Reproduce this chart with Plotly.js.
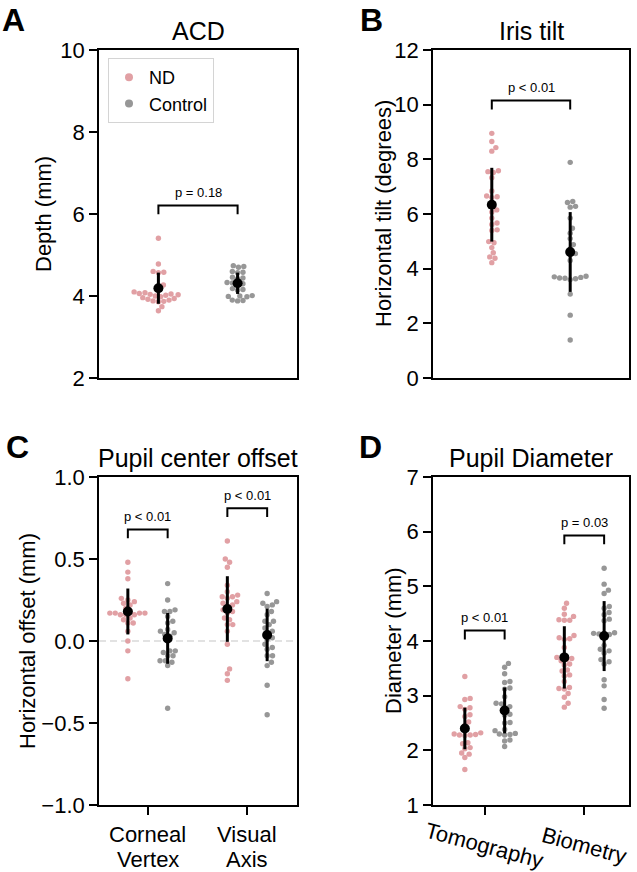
<!DOCTYPE html>
<html><head><meta charset="utf-8">
<script src="https://cdn.plot.ly/plotly-3.0.1.min.js"></script>
<style>html,body{margin:0;padding:0;background:#fff;} #chart{width:637px;height:872px;}</style>
</head><body><div id="chart"></div>
<script>
// ---------------- data ----------------
const groups = ['ND', 'Control'];
const panelTitles = ['ACD', 'Iris tilt', 'Pupil center offset', 'Pupil Diameter'];
const panelLetters = ['A', 'B', 'C', 'D'];
const yTitles = ['Depth (mm)', 'Horizontal tilt (degrees)', 'Horizontal offset (mm)', 'Diameter (mm)'];
const offsetCats = ['Corneal<br>Vertex', 'Visual<br>Axis'];
const diamCats = ['Tomography', 'Biometry'];

const acdND = [5.41, 4.78, 4.60, 4.58, 4.57, 4.27, 4.22, 4.10, 4.08, 4.06, 4.05, 4.04, 4.03, 4.02, 4.00, 3.98, 3.96, 3.94, 3.92, 3.90, 3.88, 3.87, 3.86, 3.74, 3.64];
const acdControl = [4.74, 4.72, 4.70, 4.60, 4.58, 4.57, 4.46, 4.44, 4.42, 4.33, 4.32, 4.30, 4.28, 4.18, 4.16, 4.14, 4.01, 4.00, 3.99, 3.98, 3.90, 3.89, 3.88];
const acdMean = [4.19, 4.31];
const acdSD = [0.38, 0.26];
const acdP = ['p = 0.18'];

const tiltND = [8.95, 8.65, 8.43, 8.30, 7.58, 7.55, 7.52, 7.33, 6.84, 6.66, 6.63, 6.60, 6.35, 6.15, 6.07, 5.85, 5.67, 5.62, 5.42, 5.40, 4.99, 4.95, 4.77, 4.58, 4.43, 4.38, 4.22];
const tiltControl = [7.89, 6.46, 6.42, 6.28, 6.25, 5.85, 5.48, 5.30, 5.10, 4.88, 4.72, 4.55, 4.50, 4.30, 3.72, 3.70, 3.68, 3.66, 3.65, 3.63, 3.60, 3.07, 2.30, 1.39];
const tiltMean = [6.34, 4.61];
const tiltSD = [1.35, 1.46];
const tiltP = ['p < 0.01'];

const offsetCornealND = [0.48, 0.42, 0.38, 0.26, 0.25, 0.24, 0.23, 0.22, 0.20, 0.18, 0.17, 0.17, 0.17, 0.17, 0.16, 0.16, 0.16, 0.14, 0.13, 0.11, 0.11, 0.06, 0.00, -0.06, -0.23];
const offsetCornealControl = [0.35, 0.25, 0.19, 0.18, 0.18, 0.15, 0.12, 0.11, 0.07, 0.06, 0.05, 0.04, 0.03, 0.00, -0.06, -0.06, -0.07, -0.09, -0.09, -0.12, -0.12, -0.13, -0.15, -0.41];
const offsetVisualND = [0.61, 0.50, 0.48, 0.45, 0.34, 0.30, 0.28, 0.27, 0.27, 0.26, 0.24, 0.23, 0.22, 0.21, 0.19, 0.18, 0.17, 0.14, 0.13, 0.10, 0.10, 0.06, -0.02, -0.17, -0.20, -0.24];
const offsetVisualControl = [0.29, 0.24, 0.23, 0.22, 0.21, 0.18, 0.16, 0.12, 0.12, 0.10, 0.08, 0.06, 0.05, 0.02, 0.01, -0.02, -0.04, -0.05, -0.09, -0.09, -0.13, -0.15, -0.27, -0.45];
const offsetNDMean = [0.18, 0.195];
const offsetNDSD = [0.14, 0.20];
const offsetControlMean = [0.016, 0.037];
const offsetControlSD = [0.155, 0.16];
const offsetP = ['p < 0.01', 'p < 0.01'];

const diamTomoND = [3.35, 2.95, 2.93, 2.80, 2.78, 2.75, 2.65, 2.62, 2.52, 2.45, 2.32, 2.30, 2.29, 2.28, 2.28, 2.27, 2.14, 2.12, 2.05, 2.03, 1.95, 1.93, 1.87, 1.65];
const diamTomoControl = [3.59, 3.52, 3.40, 3.26, 3.24, 3.14, 3.12, 2.98, 2.86, 2.85, 2.80, 2.77, 2.66, 2.64, 2.51, 2.50, 2.38, 2.36, 2.31, 2.30, 2.29, 2.28, 2.19, 2.17, 2.07];
const diamBioND = [4.69, 4.60, 4.49, 4.45, 4.39, 4.38, 4.38, 4.10, 4.06, 4.04, 4.03, 3.88, 3.70, 3.68, 3.66, 3.64, 3.58, 3.56, 3.47, 3.45, 3.38, 3.36, 3.26, 3.15, 3.13, 3.12, 3.04, 2.97, 2.86, 2.79];
const diamBioControl = [5.33, 5.04, 4.93, 4.87, 4.63, 4.60, 4.52, 4.48, 4.40, 4.37, 4.15, 4.14, 4.13, 4.12, 4.10, 3.92, 3.85, 3.82, 3.78, 3.66, 3.62, 3.58, 3.29, 3.18, 2.93, 2.77];
const diamNDMean = [2.40, 3.70];
const diamNDSD = [0.38, 0.57];
const diamControlMean = [2.73, 4.09];
const diamControlSD = [0.42, 0.64];
const diamP = ['p < 0.01', 'p = 0.03'];

// ---------------- style / layout ----------------
const W = 637, H = 872;
const FONT = 'Liberation Sans, Arial, Helvetica, sans-serif';
const PINK = '#e1a0a4', GRAY = '#979797';
const DOT = 5.4;
const px2x = p => p / W;
const py2y = p => 1 - p / H;

const boxes = [
  {l: 99, r: 297, t: 50, b: 378, xr: [-0.75, 1.75], yr: [2, 10], tv: [2, 4, 6, 8, 10], fmt: 'd', ytx: 43},
  {l: 433, r: 629, t: 50, b: 378, xr: [-0.75, 1.75], yr: [0, 12], tv: [0, 2, 4, 6, 8, 10, 12], fmt: 'd', ytx: 383},
  {l: 99, r: 297, t: 477, b: 805, xr: [-0.49, 1.5], yr: [-1, 1], tv: [-1, -0.5, 0, 0.5, 1], fmt: '.1f', ytx: 27},
  {l: 433, r: 629, t: 477, b: 805, xr: [-0.52, 1.45], yr: [1, 7], tv: [1, 2, 3, 4, 5, 6, 7], fmt: 'd', ytx: 393}
];

function swarm(values, pxY, d) {
  const idx = values.map((v, i) => i).sort((a, b) => values[a] - values[b]);
  const placed = [];
  const off = new Array(values.length);
  for (const i of idx) {
    const y = values[i] * pxY;
    const near = placed.filter(p => Math.abs(p.y - y) < d);
    const cands = [0];
    for (const p of near) {
      const dx = Math.sqrt(d * d - (p.y - y) * (p.y - y));
      cands.push(p.x + dx, p.x - dx);
    }
    cands.sort((a, b) => Math.abs(a) - Math.abs(b));
    let chosen = cands[cands.length - 1];
    for (const c of cands) {
      if (near.every(p => (p.x - c) * (p.x - c) + (p.y - y) * (p.y - y) >= d * d - 1e-6)) { chosen = c; break; }
    }
    placed.push({x: chosen, y: y});
    off[i] = chosen;
  }
  return off;
}

const traces = [];
const annotations = [];
const shapes = [];
const layout = {
  width: W, height: H, margin: {l: 0, r: 0, t: 0, b: 0},
  paper_bgcolor: '#fff', plot_bgcolor: '#fff',
  font: {family: FONT, color: '#000'},
  showlegend: true,
  legend: {x: px2x(108), y: py2y(58), xanchor: 'left', yanchor: 'top', bgcolor: '#fff',
           bordercolor: '#d4d4d4', borderwidth: 1, font: {size: 18, family: FONT, color: '#000'},
           itemclick: false}
};

function axName(i) { return i === 0 ? '' : String(i + 1); }

function panel(i, sets, means, brackets, cats) {
  const bx = boxes[i];
  const xa = 'x' + axName(i), ya = 'y' + axName(i);
  const pxX = (bx.r - bx.l) / (bx.xr[1] - bx.xr[0]);
  const pxY = (bx.b - bx.t) / (bx.yr[1] - bx.yr[0]);
  const span = bx.yr[1] - bx.yr[0];
  layout['xaxis' + axName(i)] = {
    domain: [px2x(bx.l), px2x(bx.r)], range: bx.xr, anchor: ya,
    showline: true, mirror: true, linecolor: '#000', linewidth: 1.8,
    showgrid: false, zeroline: false, fixedrange: true,
    ticks: cats ? 'outside' : '', ticklen: 8, tickwidth: 1.8, tickcolor: '#000',
    tickvals: cats ? [0, 1] : [], showticklabels: false
  };
  layout['yaxis' + axName(i)] = {
    domain: [py2y(bx.b), py2y(bx.t)], range: bx.yr, anchor: xa,
    showline: true, mirror: true, linecolor: '#000', linewidth: 1.8,
    showgrid: false, zeroline: false, fixedrange: true,
    ticks: 'outside', ticklen: 8, tickwidth: 1.8, tickcolor: '#000',
    tickvals: bx.tv, tickformat: bx.fmt,
    tickfont: {size: 22, family: FONT, color: '#000'}
  };
  for (const s of sets) {
    const off = swarm(s.vals, pxY, DOT);
    traces.push({type: 'scatter', mode: 'markers', xaxis: xa, yaxis: ya,
      x: s.vals.map((v, k) => s.x + off[k] / pxX), y: s.vals,
      marker: {color: s.color, size: DOT, line: {width: 0}}, showlegend: false, hoverinfo: 'skip'});
  }
  for (const m of means) {
    traces.push({type: 'scatter', mode: 'markers', xaxis: xa, yaxis: ya, x: m.x, y: m.y,
      error_y: {type: 'data', array: m.sd, visible: true, thickness: 3, width: 0, color: '#000'},
      marker: {color: '#000', size: 10, line: {width: 0}}, showlegend: false, hoverinfo: 'skip'});
  }
  for (const br of brackets) {
    const top = Math.max(...br.a, ...br.b) + 0.1 * span;
    const tick = 0.027 * span;
    traces.push({type: 'scatter', mode: 'lines', xaxis: xa, yaxis: ya,
      x: [br.x0, br.x0, br.x1, br.x1], y: [top - tick, top, top, top - tick],
      line: {color: '#000', width: 2}, showlegend: false, hoverinfo: 'skip'});
    annotations.push({xref: xa, yref: ya, x: (br.x0 + br.x1) / 2, y: top + 0.039 * span,
      text: br.label, showarrow: false, xanchor: 'center', yanchor: 'middle',
      font: {size: 13, family: FONT, color: '#000'}});
  }
  // panel title
  annotations.push({xref: 'paper', yref: 'paper', x: px2x((bx.l + bx.r) / 2), y: py2y(bx.t - 3),
    text: panelTitles[i], showarrow: false, xanchor: 'center', yanchor: 'bottom',
    font: {size: 25, family: FONT, color: '#000'}});
  // y title
  annotations.push({xref: 'paper', yref: 'paper', x: px2x(bx.ytx), y: py2y((bx.t + bx.b) / 2),
    text: yTitles[i], textangle: -90, showarrow: false, xanchor: 'center', yanchor: 'middle',
    font: {size: 22, family: FONT, color: '#000'}});
  // category labels
  if (cats && i === 2) {
    cats.forEach((c, k) => {
      c.split('<br>').forEach((line, j) => {
        annotations.push({xref: xa, yref: 'paper', x: k, y: py2y(j === 0 ? 834 : 859), text: line,
          showarrow: false, xanchor: 'center', yanchor: 'middle',
          font: {size: 22, family: FONT, color: '#000'}});
      });
    });
  }
  if (cats && i === 3) {
    cats.forEach((c, k) => {
      annotations.push({xref: xa, yref: 'paper', x: k, y: py2y(845), text: c, textangle: 15,
        showarrow: false, xanchor: 'center', yanchor: 'middle',
        font: {size: 22, family: FONT, color: '#000'}});
    });
  }
}

const OFF = 0.2;
panel(0,
  [{vals: acdND, x: 0, color: PINK}, {vals: acdControl, x: 1, color: GRAY}],
  [{x: [0, 1], y: acdMean, sd: acdSD}],
  [{x0: 0, x1: 1, a: acdND, b: acdControl, label: acdP[0]}], null);

panel(1,
  [{vals: tiltND, x: 0, color: PINK}, {vals: tiltControl, x: 1, color: GRAY}],
  [{x: [0, 1], y: tiltMean, sd: tiltSD}],
  [{x0: 0, x1: 1, a: tiltND, b: tiltControl, label: tiltP[0]}], null);

panel(2,
  [{vals: offsetCornealND, x: 0 - OFF, color: PINK}, {vals: offsetCornealControl, x: 0 + OFF, color: GRAY},
   {vals: offsetVisualND, x: 1 - OFF, color: PINK}, {vals: offsetVisualControl, x: 1 + OFF, color: GRAY}],
  [{x: [0 - OFF, 1 - OFF], y: offsetNDMean, sd: offsetNDSD},
   {x: [0 + OFF, 1 + OFF], y: offsetControlMean, sd: offsetControlSD}],
  [{x0: 0 - OFF, x1: 0 + OFF, a: offsetCornealND, b: offsetCornealControl, label: offsetP[0]},
   {x0: 1 - OFF, x1: 1 + OFF, a: offsetVisualND, b: offsetVisualControl, label: offsetP[1]}], offsetCats);

panel(3,
  [{vals: diamTomoND, x: 0 - OFF, color: PINK}, {vals: diamTomoControl, x: 0 + OFF, color: GRAY},
   {vals: diamBioND, x: 1 - OFF, color: PINK}, {vals: diamBioControl, x: 1 + OFF, color: GRAY}],
  [{x: [0 - OFF, 1 - OFF], y: diamNDMean, sd: diamNDSD},
   {x: [0 + OFF, 1 + OFF], y: diamControlMean, sd: diamControlSD}],
  [{x0: 0 - OFF, x1: 0 + OFF, a: diamTomoND, b: diamTomoControl, label: diamP[0]},
   {x0: 1 - OFF, x1: 1 + OFF, a: diamBioND, b: diamBioControl, label: diamP[1]}], diamCats);

// zero reference line in panel C
shapes.push({type: 'line', xref: 'x3 domain', yref: 'y3', x0: 0, x1: 1, y0: 0, y1: 0, layer: 'below',
  line: {color: '#d9d9d9', width: 1.5, dash: '7px,4px'}});

// legend entries
[[groups[0], PINK], [groups[1], GRAY]].forEach(([n, c]) => {
  traces.push({type: 'scatter', mode: 'markers', x: [null], y: [null], xaxis: 'x', yaxis: 'y',
    name: n, marker: {color: c, size: 8, line: {width: 0}}, showlegend: true, hoverinfo: 'skip'});
});

// panel letters (bottom of text box ~ baseline + descent)
const letterPos = [[0, 40], [358, 40], [4, 467], [357, 467]];
panelLetters.forEach((L, k) => {
  annotations.push({xref: 'paper', yref: 'paper', x: px2x(letterPos[k][0]), y: py2y(letterPos[k][1]),
    text: '<b>' + L + '</b>', showarrow: false, xanchor: 'left', yanchor: 'bottom',
    font: {size: 32, family: FONT, color: '#000'}});
});

layout.annotations = annotations;
layout.shapes = shapes;
Plotly.newPlot('chart', traces, layout, {displayModeBar: false, staticPlot: true});
</script>
</body></html>
